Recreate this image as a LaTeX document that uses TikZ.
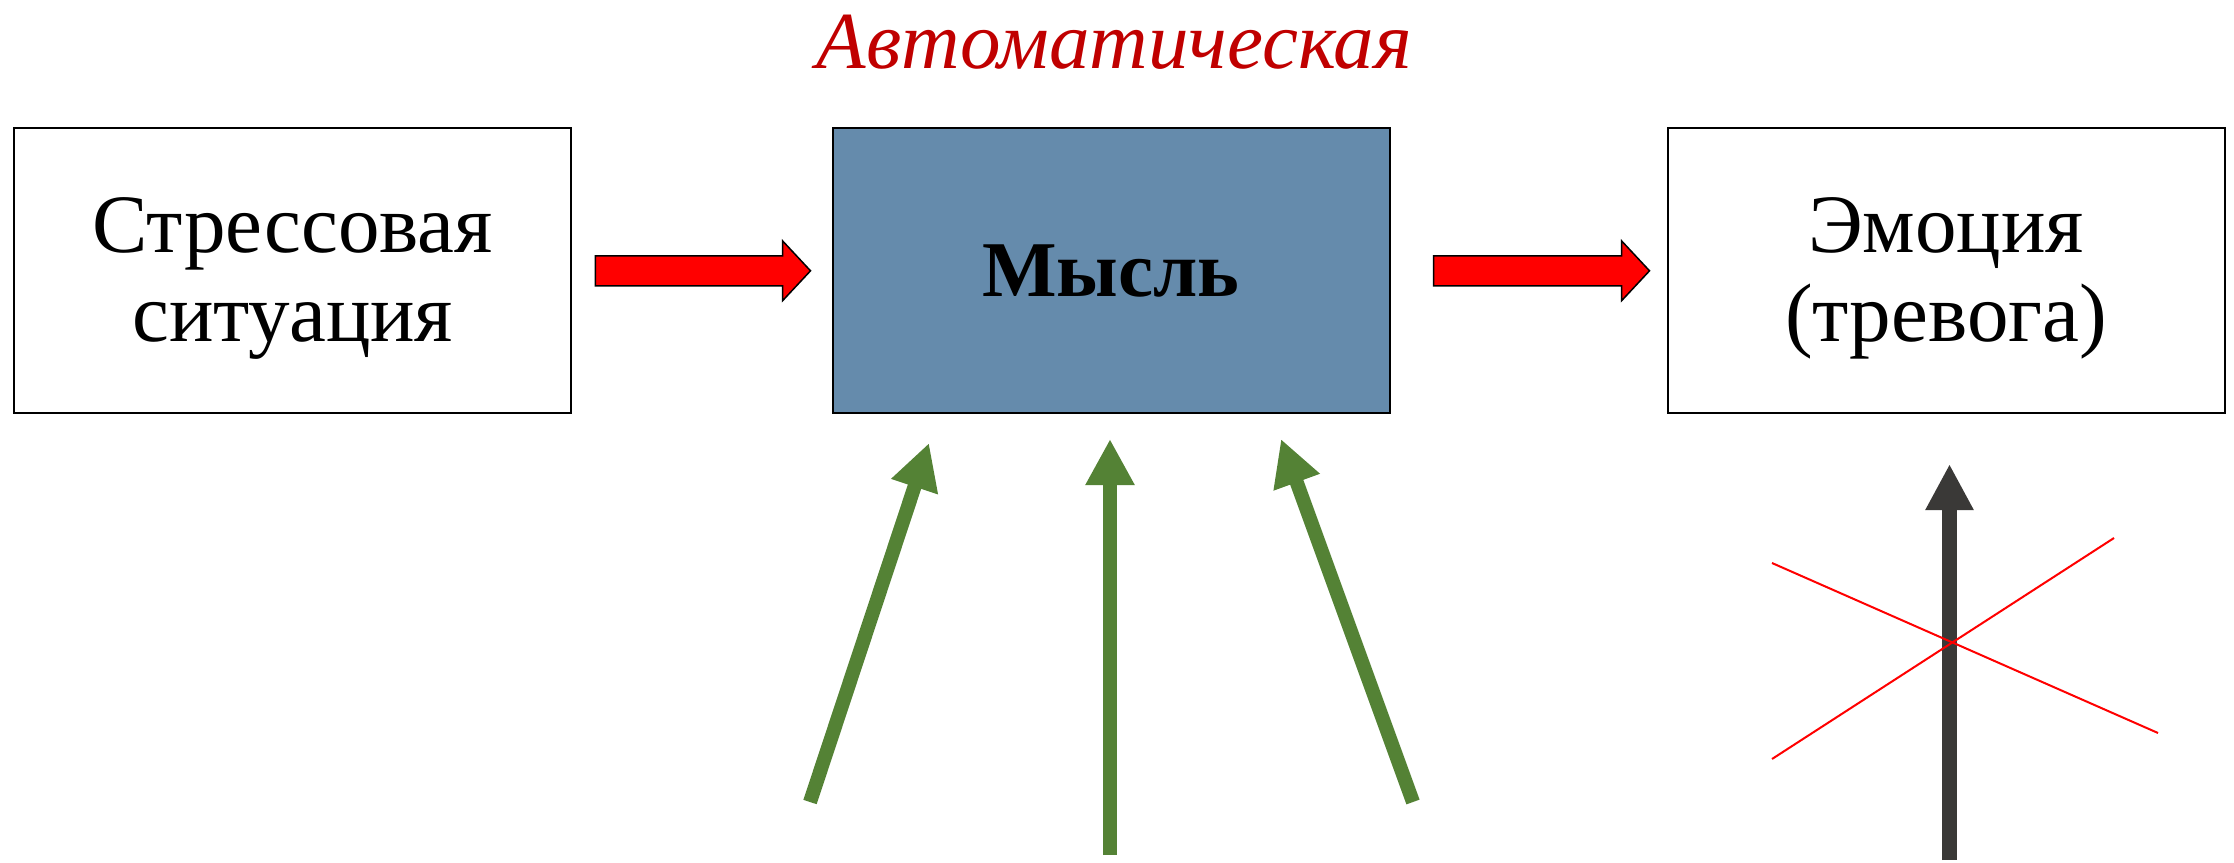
\documentclass[tikz,border=0pt]{standalone}
\usepackage{fontspec}
\setmainfont{Liberation Serif}
\usetikzlibrary{arrows.meta,calc}
\definecolor{myslfill}{RGB}{101,139,172}
\definecolor{grn}{RGB}{84,130,53}
\definecolor{dgray}{RGB}{58,57,55}
\definecolor{titlered}{RGB}{192,0,0}
\newcommand\fatarrow[2]{\draw[fat] ($(#1)+(0,-15)$) -- ($(#2)+(-28,-15)$) -- ($(#2)+(-28,-30)$) -- (#2) -- ($(#2)+(-28,30)$) -- ($(#2)+(-28,15)$) -- ($(#1)+(0,15)$) -- cycle;}
\begin{document}
\begin{tikzpicture}[x=1pt,y=-1pt,
  box/.style={draw=black, line width=2pt, minimum width=557pt, minimum height=285pt, inner sep=0pt},
  boxtext/.style={inner sep=0pt, align=center, font=\fontsize{83}{89}\selectfont},
  fat/.style={fill=red, draw=black, line width=1.5pt, line join=miter},
  grnarrow/.style={draw=grn, line width=14pt, -{Triangle[length=46pt,width=46pt]}},
  grayarrow/.style={draw=dgray, line width=15pt, -{Triangle[length=46pt,width=45pt]}},
  cross/.style={draw=red, line width=2pt},
  titlestyle/.style={text=titlered, inner sep=0pt, font=\fontsize{81}{81}\selectfont\itshape}
]
\useasboundingbox (0,0) rectangle (2234,862);
\node[box] (s) at (292.8,270.8) {};
\node[box, fill=myslfill] (m) at (1111,270.8) {};
\node[box] (r) at (1946,270.8) {};
\node[boxtext] (stxt) at ($(s.center)+(0,8)$) {Стрессовая\\ситуация};
\node[boxtext, font=\fontsize{79}{89}\selectfont\bfseries] (mtxt) at (m.center) {Мысль};
\node[boxtext] (rtxt) at ($(r.center)+(0,8)$) {Эмоция\\(тревога)};
\node[titlestyle, anchor=base] (t) at (1114.5,68) {Автоматическая};
\coordinate (a1s) at ($(s.east)+(23,0)$);
\coordinate (a1e) at ($(m.west)+(-21,0)$);
\coordinate (a2s) at ($(m.east)+(43,0)$);
\coordinate (a2e) at ($(r.west)+(-17,0)$);
\fatarrow{a1s}{a1e}
\fatarrow{a2s}{a2e}
\coordinate (g1s) at (810,802);
\coordinate (g1e) at (929,443);
\coordinate (g2s) at (1110,855);
\coordinate (g2e) at (1110,439);
\coordinate (g3s) at (1413,802);
\coordinate (g3e) at (1281,439);
\draw[grnarrow] (g1s) -- (g1e);
\draw[grnarrow] (g2s) -- (g2e);
\draw[grnarrow] (g3s) -- (g3e);
\coordinate (ds) at (1949.5,860);
\coordinate (de) at (1949.5,464);
\draw[grayarrow] (ds) -- (de);
\coordinate (x1a) at (1772,563);
\coordinate (x1b) at (2158,733);
\coordinate (x2a) at (1772,759);
\coordinate (x2b) at (2114,538);
\draw[cross] (x1a) -- (x1b);
\draw[cross] (x2a) -- (x2b);
\end{tikzpicture}
\end{document}
